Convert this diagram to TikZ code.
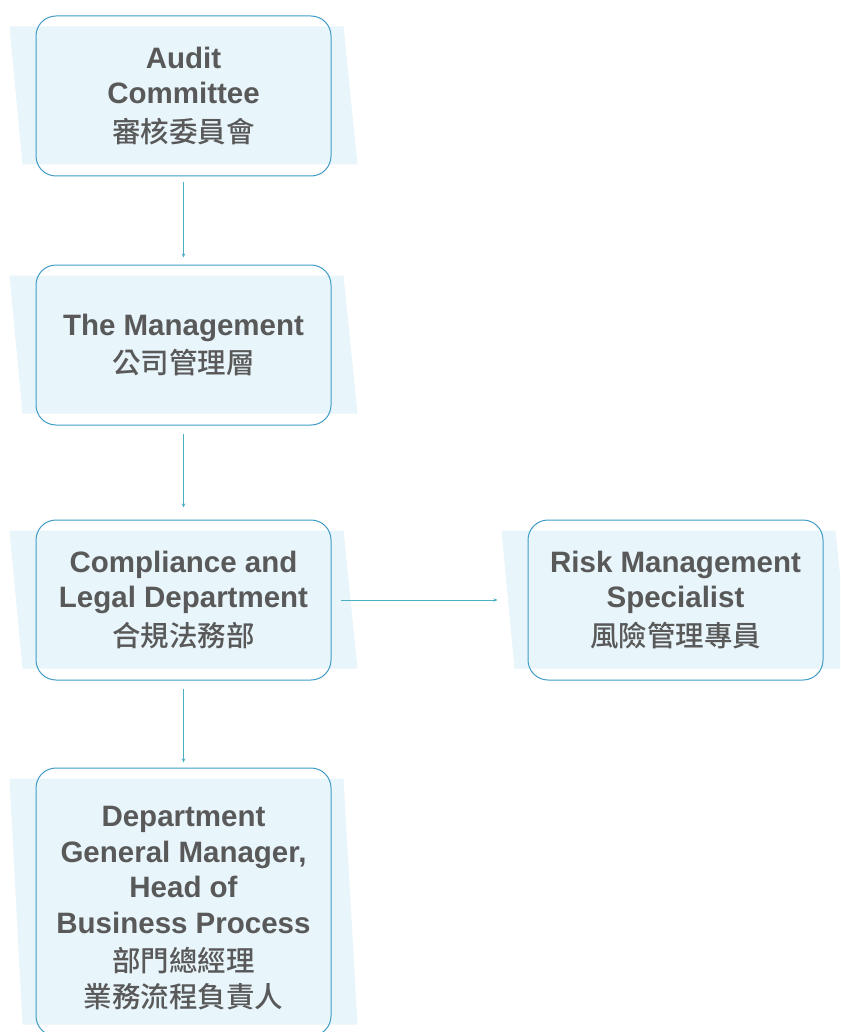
\documentclass[tikz,border=0pt]{standalone}
\usepackage{fontspec}
\usepackage{tikz}
\usetikzlibrary{arrows.meta,backgrounds,calc}
\setmainfont{Liberation Sans}
\newfontfamily\cjk{Noto Sans CJK TC Medium}
\definecolor{B0}{HTML}{E8F5FB}
\definecolor{B1}{HTML}{3F9CC6}
\definecolor{B2}{HTML}{4DB0C6}
\definecolor{T0}{HTML}{595959}
\tikzset{%
  box/.style={draw=B1, line width=1pt, rounded corners=20pt, minimum width=295pt, minimum height=160pt, align=center, text=T0, font=\bfseries\fontsize{29.5}{35.5}\selectfont},%
  link/.style={draw=B2, line width=0.9pt, -{Stealth[length=4pt,width=3.5pt]}},%
}
\newcommand{\cjkline}[1]{{\cjk\mdseries\fontsize{28.5}{35.5}\selectfont #1}}
\newcommand{\panelfill}[1]{\fill[B0] ($(#1.north west)+(-26,11)$) -- ($(#1.north east)+(12,11)$) -- ($(#1.south east)+(26,-12)$) -- ($(#1.south west)+(-13,-12)$) -- cycle;}
\begin{document}
\begin{tikzpicture}[x=1pt, y=-1pt]%
\useasboundingbox (0,0) rectangle (840,1032);%
\node[box] (audit) at (183.5, 96) {Audit\\Committee\\[3pt]\cjkline{審核委員會}};%
\node[box] (mgmt) at (183.5, 345) {The Management\\[3pt]\cjkline{公司管理層}};%
\node[box] (legal) at (183.5, 600) {Compliance and\\Legal Department\\[3pt]\cjkline{合規法務部}};%
\node[box] (risk) at (675.5, 600) {Risk Management\\Specialist\\[3pt]\cjkline{風險管理專員}};%
\node[box, minimum height=268pt] (head) at (183.5, 902) {\rule{0pt}{32pt}Department\\General Manager,\\Head of\\Business Process\\[3pt]\cjkline{部門總經理}\\\cjkline{業務流程負責人}};%
\begin{scope}[on background layer]%
\clip (0,0) rectangle (840,1032);%
\panelfill{audit}%
\panelfill{mgmt}%
\panelfill{legal}%
\panelfill{risk}%
\panelfill{head}%
\end{scope}%
\draw[link, shorten <=6pt, shorten >=7pt] (audit) -- (mgmt);%
\draw[link, shorten <=8pt, shorten >=12pt] (mgmt) -- (legal);%
\draw[link, shorten <=8pt, shorten >=5pt] (legal) -- (head);%
\draw[link, shorten <=9pt, shorten >=30pt] (legal) -- (risk);%
\end{tikzpicture}
\end{document}
